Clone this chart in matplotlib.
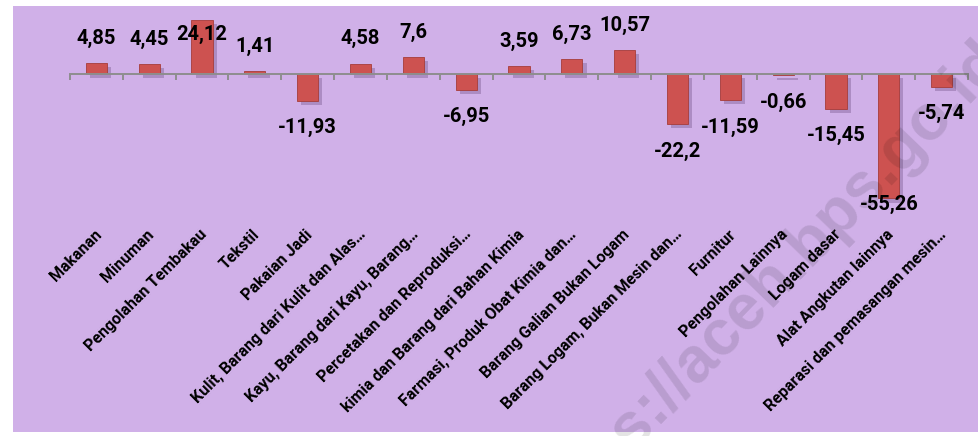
import matplotlib.pyplot as plt
import matplotlib.patheffects as pe
from matplotlib.patches import Rectangle
import matplotlib.transforms as mtransforms
import numpy as np

# Pertumbuhan produksi industri per sub-sektor (%)
categories = [
    'Makanan',
    'Minuman',
    'Pengolahan Tembakau',
    'Tekstil',
    'Pakaian Jadi',
    'Kulit, Barang dari Kulit dan Alas…',
    'Kayu, Barang dari Kayu, Barang…',
    'Percetakan dan Reproduksi…',
    'kimia dan Barang dari Bahan Kimia',
    'Farmasi, Produk Obat Kimia dan…',
    'Barang Galian Bukan Logam',
    'Barang Logam, Bukan Mesin dan…',
    'Furnitur',
    'Pengolahan Lainnya',
    'Logam dasar',
    'Alat Angkutan lainnya',
    'Reparasi dan pemasangan mesin…',
]
values = [4.85, 4.45, 24.12, 1.41, -11.93, 4.58, 7.6, -6.95, 3.59, 6.73,
          10.57, -22.2, -11.59, -0.66, -15.45, -55.26, -5.74]
value_labels = ['4,85', '4,45', '24,12', '1,41', '-11,93', '4,58', '7,6', '-6,95',
                '3,59', '6,73', '10,57', '-22,2', '-11,59', '-0,66', '-15,45',
                '-55,26', '-5,74']

BG = '#D0B0E8'
BAR = '#CD5250'
FONT = 'Roboto'

fig = plt.figure(figsize=(9.79, 4.36), dpi=100, facecolor='white')
fig.patches.append(Rectangle((13 / 979, 4 / 436), 1 - 13 / 979, 426 / 436,
                             transform=fig.transFigure, facecolor=BG,
                             edgecolor='none', zorder=-1))

ax = fig.add_axes([70 / 979, 1 - 210 / 436, 898 / 979, 200 / 436])
ax.patch.set_visible(False)
ymin, ymax = -60.4, 28.4
ax.set_xlim(-0.5, len(values) - 0.5)
ax.set_ylim(ymin, ymax)

x = np.arange(len(values))
bars = ax.bar(x, values, width=0.4, color=BAR, edgecolor='#A63C3A',
              linewidth=0.6, zorder=3)
for b in bars:
    b.set_path_effects([pe.SimplePatchShadow(offset=(3, -3), shadow_rgbFace='#6a4a80',
                                             alpha=0.35), pe.Normal()])

# zero axis with boundary ticks
for s in ['top', 'right', 'left']:
    ax.spines[s].set_visible(False)
ax.spines['bottom'].set_position(('data', 0))
ax.spines['bottom'].set_color('#8E8E8E')
ax.spines['bottom'].set_linewidth(1.4)
ax.spines['bottom'].set_zorder(4)
ax.set_yticks([])
ax.set_xticks(np.arange(len(values) + 1) - 0.5)
ax.set_xticklabels([])
ax.tick_params(axis='x', direction='out', length=4, width=1.4, color='#8E8E8E')

# value labels
for xi, v, lab in zip(x, values, value_labels):
    if v >= 0:
        y = v + 11
        if y > ymax - 6:
            y = v - 6.7
    else:
        y = max(v - 12, ymin + 2.6)
    ax.text(xi, y, lab, ha='center', va='center', fontsize=14.5,
            fontweight='bold', family=FONT, color='black', zorder=5)

# category labels, rotated
trans = mtransforms.blended_transform_factory(ax.transData, ax.transAxes)
for xi, cat in zip(x, categories):
    ax.text(xi + 0.05, -0.11, cat, transform=trans, rotation=45,
            rotation_mode='anchor', ha='right', va='center', fontsize=11.5,
            fontweight='bold', family=FONT, color='black')

# watermark
fig.text(765 / 979, 1 - 288 / 436, 'https://aceh.bps.go.id', rotation=46,
         ha='center', va='center', fontsize=46, fontweight='bold',
         family='Liberation Sans', color='black', alpha=0.11, zorder=10)

fig.savefig('out.png', dpi=100, facecolor='white')
